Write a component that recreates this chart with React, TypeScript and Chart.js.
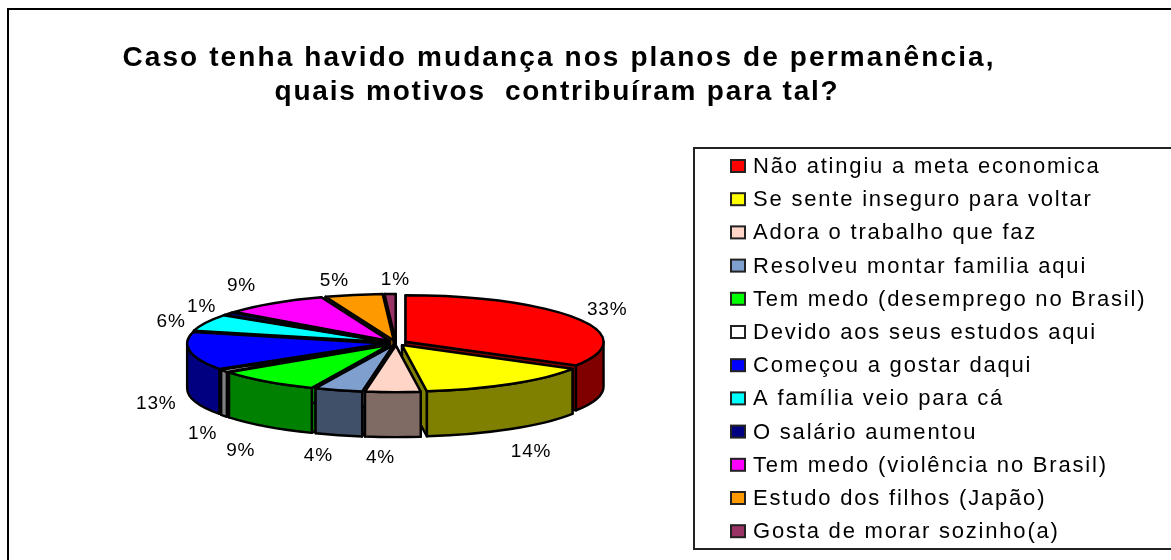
import React, { useEffect, useRef } from "react";
import { Chart, registerables } from "chart.js";

Chart.register(...registerables);

const categories = [
  "Não atingiu a meta economica",
  "Se sente inseguro para voltar",
  "Adora o trabalho que faz",
  "Resolveu montar familia aqui",
  "Tem medo (desemprego no Brasil)",
  "Devido aos seus estudos aqui",
  "Começou a gostar daqui",
  "A família veio para cá",
  "O salário aumentou",
  "Tem medo (violência no Brasil)",
  "Estudo dos filhos (Japão)",
  "Gosta de morar sozinho(a)",
];
const shares = [33.49, 14.49, 4.49, 3.9, 8.6, 0.8, 13.1, 5.8, 1.0, 8.7, 4.7, 0.9];
const faceColors = ["#FF0000", "#FFFF00", "#FFD5C8", "#7F9FCF", "#00FF00", "#FFFFFF", "#0000FF", "#00FFFF", "#000080", "#FF00FF", "#FF9900", "#993366"];
const wallColors = ["#800000", "#808000", "#806B64", "#405068", "#008000", "#808080", "#000080", "#008080", "#000040", "#800080", "#804D00", "#4D1A33"];
const titleLines = ["Caso tenha havido mudança nos planos de permanência,", "quais motivos  contribuíram para tal?"];

const FONT = '"Liberation Sans", Arial, sans-serif';
const TILT = 0.235;
const DEPTH = 45;
const EXPLODE = 11;
// label placement tweaks relative to the computed anchor, [dx, dy]
const labelNudges: number[][] = [[7, -1], [6, 16], [-12, 4], [-13, 6], [-9, 21], [0, 28], [-8, 42], [-11, 6], [-6, 3], [-17, -4], [-14, 2], [6, 2]];

const pie3d = {
  id: "pie3d",
  beforeDatasetsDraw(chart: any) {
    const ctx: CanvasRenderingContext2D = chart.ctx;
    const meta = chart.getDatasetMeta(0);
    const wedges = meta.data.map((arc: any, i: number) => {
      const mid = (arc.startAngle + arc.endAngle) / 2;
      return {
        i,
        a0: arc.startAngle,
        a1: arc.endAngle,
        mid,
        r: arc.outerRadius,
        x: arc.x + Math.cos(mid) * EXPLODE,
        y: arc.y + Math.sin(mid) * EXPLODE * TILT,
      };
    });
    const rim = (w: any, a: number, dy = 0) => [w.x + w.r * Math.cos(a), w.y + dy + w.r * TILT * Math.sin(a)];

    ctx.save();
    ctx.lineWidth = 2.4;
    ctx.lineJoin = "round";
    ctx.strokeStyle = "#000";

    const order = [...wedges].sort((p: any, q: any) => Math.sin(p.mid) - Math.sin(q.mid));
    for (const w of order) {
      ctx.fillStyle = wallColors[w.i];
      for (const a of [w.a0, w.a1]) {
        const [px, py] = rim(w, a);
        ctx.beginPath();
        ctx.moveTo(w.x, w.y);
        ctx.lineTo(px, py);
        ctx.lineTo(px, py + DEPTH);
        ctx.lineTo(w.x, w.y + DEPTH);
        ctx.closePath();
        ctx.fill();
        ctx.stroke();
      }
      // outer wall: only the part of the rim facing the viewer
      const TWO = Math.PI * 2;
      for (let k = -1; k <= 1; k++) {
        const from = Math.max(w.a0, k * TWO);
        const to = Math.min(w.a1, k * TWO + Math.PI);
        if (to <= from) continue;
        ctx.beginPath();
        ctx.ellipse(w.x, w.y, w.r, w.r * TILT, 0, from, to);
        ctx.ellipse(w.x, w.y + DEPTH, w.r, w.r * TILT, 0, to, from, true);
        ctx.closePath();
        ctx.fill();
        ctx.stroke();
      }
    }
    for (const w of wedges) {
      ctx.fillStyle = faceColors[w.i];
      ctx.beginPath();
      ctx.moveTo(w.x, w.y);
      ctx.ellipse(w.x, w.y, w.r, w.r * TILT, 0, w.a0, w.a1);
      ctx.closePath();
      ctx.fill();
      ctx.stroke();
    }

    // percentage labels
    (ctx as any).letterSpacing = "0.8px";
    ctx.font = `19px ${FONT}`;
    ctx.fillStyle = "#000";
    ctx.textAlign = "center";
    ctx.textBaseline = "middle";
    wedges.forEach((w: any) => {
      const pad = 1.2;
      const lx = w.x + (w.r + 26) * Math.cos(w.mid);
      const ly = w.y + (w.r + 26) * pad * TILT * Math.sin(w.mid) + (Math.sin(w.mid) > 0 ? DEPTH * Math.sin(w.mid) : 0);
      const [nx, ny] = labelNudges[w.i];
      ctx.fillText(`${Math.round(shares[w.i])}%`, lx + nx, ly + ny);
    });
    ctx.restore();
    return false;
  },
  afterDraw(chart: any) {
    const ctx: CanvasRenderingContext2D = chart.ctx;
    ctx.save();
    // outer frame: its right and bottom edges run past the picture
    ctx.strokeStyle = "#000";
    ctx.lineWidth = 2;
    ctx.strokeRect(8, 9, 1180, 570);
    // title
    ctx.fillStyle = "#000";
    ctx.textAlign = "center";
    ctx.textBaseline = "alphabetic";
    ctx.font = `bold 28px ${FONT}`;
    (ctx as any).letterSpacing = "2.1px";
    ctx.fillText(titleLines[0], 559, 66);
    (ctx as any).letterSpacing = "1.77px";
    ctx.fillText(titleLines[1], 557, 100);

    // legend
    ctx.lineWidth = 2;
    ctx.strokeStyle = "#222";
    ctx.strokeRect(694, 148, 490, 401);
    ctx.textAlign = "left";
    ctx.textBaseline = "alphabetic";
    ctx.font = `22px ${FONT}`;
    (ctx as any).letterSpacing = "1.8px";
    const labels: string[] = chart.data.labels;
    labels.forEach((label, i) => {
      const rowY = 166 + i * 33.2;
      ctx.fillStyle = faceColors[i];
      ctx.fillRect(731, rowY - 6, 14, 12);
      ctx.strokeStyle = "#222";
      ctx.lineWidth = 2;
      ctx.strokeRect(731, rowY - 6, 14, 12);
      ctx.fillStyle = "#000";
      ctx.fillText(label, 753, rowY + 7);
    });
    ctx.restore();
  },
};

export default function App() {
  const ref = useRef<HTMLCanvasElement | null>(null);
  useEffect(() => {
    document.body.style.margin = "0";
    document.body.style.background = "#fff";
    const chart = new Chart(ref.current as HTMLCanvasElement, {
      type: "pie",
      data: {
        labels: categories,
        datasets: [{ data: shares, backgroundColor: faceColors, borderColor: "#000", borderWidth: 0 }],
      },
      options: {
        animation: false,
        responsive: false,
        radius: 198,
        layout: { padding: { left: 198, right: 577, top: 293, bottom: 167 } },
        plugins: { legend: { display: false }, title: { display: false }, tooltip: { enabled: false } },
      } as any,
      plugins: [pie3d],
    });
    return () => chart.destroy();
  }, []);
  return <canvas ref={ref} width={1171} height={560} style={{ display: "block" }} />;
}
